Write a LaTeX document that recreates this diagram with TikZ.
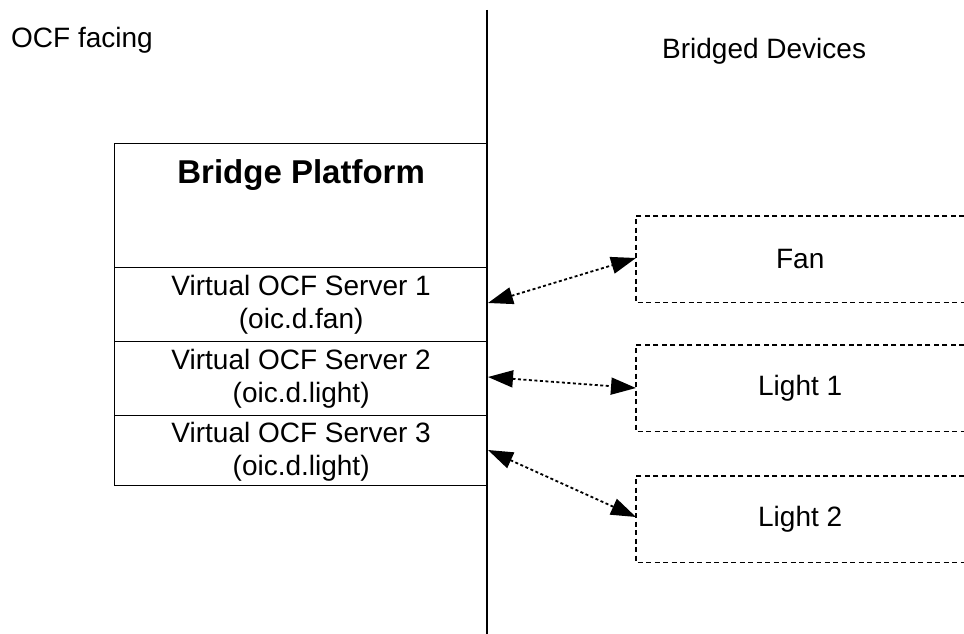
\documentclass[tikz,border=0pt]{standalone}
\usepackage{fontspec}
\setmainfont{Liberation Sans}
\usetikzlibrary{arrows.meta}
\begin{document}
\begin{tikzpicture}[x=1pt,y=-1pt,
  txt/.style={font=\fontsize{28}{35}\selectfont, inner sep=0pt, anchor=base},
  cell/.style={draw, line width=1.3pt, minimum width=373pt, inner sep=0pt, anchor=north west},
  devbox/.style={minimum width=328pt, minimum height=86pt, inner sep=0pt, anchor=north west,
    font=\fontsize{28}{35}\selectfont},
  devedge/.style={line width=1.3pt, dash pattern=on 5pt off 3.5pt},
  link/.style={line width=1.8pt, dash pattern=on 3pt off 2.5pt,
    {Triangle[length=25pt,width=17pt]}-{Triangle[length=25pt,width=17pt]}}
]
\useasboundingbox (0,0) rectangle (964,634);
\fill[white] (0,0) rectangle (964,634);

% labels
\node[txt, anchor=base west] (ocf) at (11,48) {OCF facing};
\node[txt, anchor=base west] (bd) at (662,59) {Bridged Devices};

% bridge platform
\node[cell, minimum height=124pt] (bp) at (114,143) {};
\node[txt, font=\fontsize{33}{40}\selectfont\bfseries] (bpt) at ([yshift=-40pt]bp.north) {Bridge Platform};
\node[cell, minimum height=74pt] (s1) at (114,267) {};
\node[cell, minimum height=74pt] (s2) at (114,341) {};
\node[cell, minimum height=70pt] (s3) at (114,415) {};
\node[txt] (t1) at ([yshift=-28pt]s1.north) {Virtual OCF Server 1};
\node[txt] (t1b) at ([yshift=-33pt]t1.base) {(oic.d.fan)};
\node[txt] (t2) at ([yshift=-28pt]s2.north) {Virtual OCF Server 2};
\node[txt] (t2b) at ([yshift=-33pt]t2.base) {(oic.d.light)};
\node[txt] (t3) at ([yshift=-27pt]s3.north) {Virtual OCF Server 3};
\node[txt] (t3b) at ([yshift=-33pt]t3.base) {(oic.d.light)};

% divider line
\coordinate (vtop) at (487,10);
\coordinate (vbot) at (487,634);
\draw[line width=2pt] (vtop) -- (vbot);

% bridged devices
\node[devbox] (fan) at (636,216) {Fan};
\node[devbox] (l1) at (636,345) {Light 1};
\node[devbox] (l2) at (636,476) {Light 2};
\foreach \d in {fan,l1,l2}{
  \draw[devedge] (\d.north east) -- (\d.north west) -- (\d.south west) -- (\d.south east);
}

% connector endpoints
\coordinate (a1) at (488,303);
\coordinate (b1) at (636,258);
\coordinate (a2) at (488,377);
\coordinate (b2) at (636,388);
\coordinate (a3) at (488,450);
\coordinate (b3) at (636,517);
\draw[link] (a1) -- (b1);
\draw[link] (a2) -- (b2);
\draw[link] (a3) -- (b3);
\end{tikzpicture}
\end{document}
